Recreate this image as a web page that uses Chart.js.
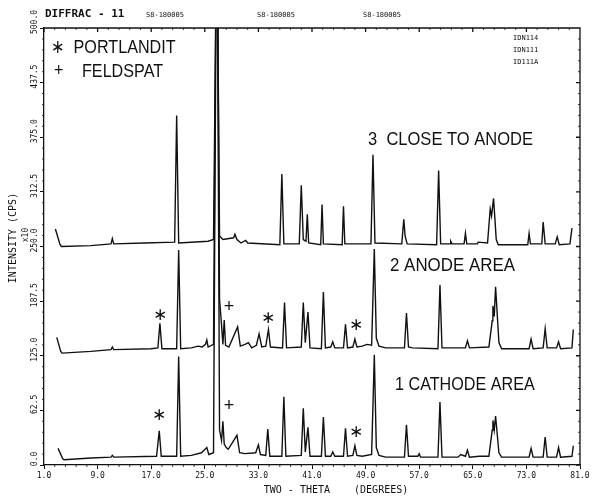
<!DOCTYPE html>
<html>
<head>
<meta charset="utf-8">
<script src="https://cdn.jsdelivr.net/npm/chart.js@4.4.0/dist/chart.umd.min.js"></script>
<style>
  body { margin: 0; background: #fff; }
</style>
</head>
<body>
<canvas id="xrd" width="595" height="499"></canvas>
<script>
// axis ticks
const xTickVals = [1, 9, 17, 25, 33, 41, 49, 57, 65, 73, 81];
const xTickLabels = ["1.0", "9.0", "17.0", "25.0", "33.0", "41.0", "49.0", "57.0", "65.0", "73.0", "81.0"];
const yTickVals = [0, 62.5, 125, 187.5, 250, 312.5, 375, 437.5, 500];
const yTickLabels = ["0.0", "62.5", "125.0", "187.5", "250.0", "312.5", "375.0", "437.5", "500.0"];

// scans, [two-theta, intensity] (offset as drawn)
const closeToAnode = [[2.7,270],[3.4,252],[3.6,250],[8,251],[11.0,253],[11.2,259],[11.4,253],[16,254],[20.5,255],[20.8,400],[21.1,254],[25.5,256],[26.3,258],[26.8,640],[27.2,262],[27.7,258],[29.3,260],[29.5,264],[29.8,258],[30.4,254],[31.1,257],[31.4,254],[36.2,252],[36.5,333],[36.8,253],[39.1,253],[39.4,320],[39.7,258],[40.1,256],[40.3,287],[40.5,254],[42.3,252],[42.5,298],[42.7,253],[45.5,252],[45.7,296],[45.9,253],[49.8,253],[50.1,355],[50.4,254],[54.4,253],[54.7,281],[54.9,262],[55.2,253],[59.6,252],[59.9,337],[60.2,253],[61.6,253],[61.7,256],[61.9,253],[63.7,253],[63.9,265],[64.1,253],[65.7,253],[65.8,255],[67.2,254],[67.6,293],[67.8,285],[68.1,305],[68.5,258],[68.8,252],[73.2,252],[73.4,265],[73.6,253],[75.3,253],[75.5,278],[75.8,253],[77.3,253],[77.6,261],[77.9,252],[79.5,253],[79.8,271]];

const anodeArea = [[2.9,146],[3.5,130],[3.7,128],[8,130],[11.0,132],[11.2,135],[11.4,132],[17.0,133],[18.0,134],[18.3,162],[18.6,133],[20.8,133],[21.1,246],[21.4,133],[23,134],[24.0,136],[24.6,135],[25.1,138],[25.3,143],[25.5,135],[26.3,138],[26.8,700],[27.2,190],[27.5,160],[27.7,138],[27.9,166],[28.1,137],[28.6,135],[29.9,158],[30.3,136],[31.0,138],[31.5,140],[32.0,134],[32.7,137],[33.1,150],[33.5,135],[34.1,136],[34.5,155],[34.8,135],[36.6,134],[36.9,186],[37.2,134],[39.4,135],[39.7,186],[40.0,140],[40.4,175],[40.7,134],[42.4,133],[42.7,198],[43.0,134],[43.8,135],[44.1,141],[44.4,134],[45.7,134],[46.0,161],[46.3,134],[47.1,135],[47.4,144],[47.7,135],[48.5,136],[49.2,138],[49.9,137],[50.3,247],[50.6,145],[51.0,136],[52,134],[54.8,134],[55.1,174],[55.4,135],[56,134],[59.8,133],[60.1,206],[60.4,134],[63.9,134],[64.2,142],[64.5,134],[67.4,135],[67.9,165],[68.0,182],[68.2,170],[68.4,204],[68.9,140],[69.3,133],[73.4,133],[73.7,144],[74.0,133],[75.5,134],[75.8,156],[76.1,134],[77.5,134],[77.8,141],[78.1,133],[79.8,134],[80.0,155]];

const cathodeArea = [[3.1,19],[3.8,7],[4.0,6],[8,8],[11.0,9],[11.2,11],[11.4,9],[17.8,10],[18.2,39],[18.5,10],[20.8,10],[21.1,124],[21.4,10],[23,11],[24.5,14],[25.3,20],[25.6,12],[26.3,14],[26.8,700],[27.2,40],[27.5,28],[27.7,50],[27.9,24],[28.2,20],[28.5,18],[29.8,34],[30.2,14],[31,13],[32.6,14],[33.0,23],[33.3,12],[34.1,11],[34.4,41],[34.7,10],[36.5,10],[36.8,78],[37.1,10],[39.4,11],[39.7,65],[40.0,15],[40.4,43],[40.7,10],[42.4,10],[42.7,55],[43.0,10],[43.8,10],[44.1,15],[44.4,10],[45.7,10],[46.0,42],[46.3,10],[47.1,11],[47.4,22],[47.7,11],[48.5,10],[49.9,12],[50.3,126],[50.6,20],[51.0,11],[52,9],[54.8,9],[55.1,46],[55.4,10],[56.8,10],[57.0,13],[57.2,9],[59.8,9],[60.1,72],[60.4,9],[62.8,9],[63.2,12],[63.9,10],[64.2,17],[64.5,9],[66,10],[67.4,10],[67.9,40],[68.0,51],[68.2,40],[68.4,56],[68.9,14],[69.3,9],[71,9],[73.4,9],[73.7,19],[74.0,9],[75.5,9],[75.8,32],[76.1,9],[77.5,9],[77.8,20],[78.1,9],[79.8,10],[80.0,22]];

const INK = '#111';
const MONO = '"DejaVu Sans Mono", "Liberation Mono", monospace';
const SANS = '"Liberation Sans", Arial, sans-serif';

function toPts(arr) { return arr.map(p => ({ x: p[0], y: p[1] })); }

function label(ctx, txt, x, y, size, sx) {
    ctx.save();
    ctx.translate(x, y);
    ctx.scale(sx, 1);
    ctx.font = size + 'px ' + SANS;
    ctx.textAlign = 'left';
    ctx.textBaseline = 'middle';
    ctx.fillText(txt, 0, 0);
    ctx.restore();
}

// box, inner ticks and all the plotter text
const decor = {
    id: 'decor',
    afterDraw(chart) {
        const { ctx, chartArea: a, scales: { x, y } } = chart;
        ctx.save();
        ctx.strokeStyle = INK;
        ctx.fillStyle = INK;
        ctx.lineWidth = 1.3;
        ctx.beginPath();
        ctx.moveTo(a.left, a.top);
        ctx.lineTo(a.right, a.top);
        ctx.lineTo(a.right, a.bottom);
        xTickVals.forEach(v => {
            const px = x.getPixelForValue(v);
            ctx.moveTo(px, a.top);
            ctx.lineTo(px, a.top + 4);
        });
        yTickVals.forEach(v => {
            const py = y.getPixelForValue(v);
            ctx.moveTo(a.right, py);
            ctx.lineTo(a.right - 4, py);
        });
        ctx.stroke();

        // small plotter ticks between the labelled ones
        ctx.lineWidth = 0.8;
        ctx.beginPath();
        for (let i = 0; i < xTickVals.length - 1; i++) {
            const p0 = x.getPixelForValue(xTickVals[i]), p1 = x.getPixelForValue(xTickVals[i + 1]);
            for (let k = 1; k < 5; k++) {
                const px = p0 + (p1 - p0) * k / 5;
                ctx.moveTo(px, a.bottom); ctx.lineTo(px, a.bottom + 2);
                ctx.moveTo(px, a.top); ctx.lineTo(px, a.top + 2);
            }
        }
        for (let i = 0; i < yTickVals.length - 1; i++) {
            const p0 = y.getPixelForValue(yTickVals[i]), p1 = y.getPixelForValue(yTickVals[i + 1]);
            for (let k = 1; k < 5; k++) {
                const py = p0 + (p1 - p0) * k / 5;
                ctx.moveTo(a.left, py); ctx.lineTo(a.left - 2, py);
                ctx.moveTo(a.right, py); ctx.lineTo(a.right - 2, py);
            }
        }
        ctx.stroke();

        // y tick labels, rotated like the plotter did
        ctx.font = '8px ' + MONO;
        ctx.textAlign = 'center';
        ctx.textBaseline = 'middle';
        yTickVals.forEach((v, i) => {
            const py = y.getPixelForValue(v);
            ctx.save();
            ctx.translate(35, Math.max(py - 6, 16));
            ctx.rotate(-Math.PI / 2);
            ctx.fillText(yTickLabels[i], 0, 0);
            ctx.restore();
        });

        // axis titles
        ctx.save();
        ctx.translate(13, 238);
        ctx.rotate(-Math.PI / 2);
        ctx.font = '10px ' + MONO;
        ctx.fillText('INTENSITY (CPS)', 0, 0);
        ctx.restore();
        ctx.save();
        ctx.translate(26, 235);
        ctx.rotate(-Math.PI / 2);
        ctx.font = '8px ' + MONO;
        ctx.fillText('x10', 0, 0);
        ctx.restore();
        ctx.font = '10px ' + MONO;
        ctx.fillText('TWO - THETA    (DEGREES)', 336, 490);

        // header
        ctx.textAlign = 'left';
        ctx.font = 'bold 11px ' + MONO;
        ctx.fillText('DIFFRAC - 11', 45, 14);
        ctx.font = '7px ' + MONO;
        ctx.fillText('S8-180005', 146, 15);
        ctx.fillText('S8-180005', 257, 15);
        ctx.fillText('S8-180005', 363, 15);
        ctx.fillText('IDN114', 513, 38);
        ctx.fillText('IDN111', 513, 50);
        ctx.fillText('ID111A', 513, 62);

        // legend and sample names
        label(ctx, '\u2217  PORTLANDIT', 51, 48, 19, 0.85);
        label(ctx, '+', 54, 71, 19, 0.85);
        label(ctx, 'FELDSPAT', 82, 72, 19, 0.85);
        label(ctx, '3  CLOSE TO ANODE', 368, 140, 19, 0.87);
        label(ctx, '2 ANODE AREA', 390, 266, 19, 0.89);
        label(ctx, '1 CATHODE AREA', 395, 385, 19, 0.85);

        // phase markers over peaks
        ctx.textAlign = 'center';
        ctx.textBaseline = 'middle';
        ctx.font = '17px "DejaVu Sans", sans-serif';
        [[160, 316], [268, 319], [356, 326], [159, 416], [356, 433]].forEach(p => ctx.fillText('\u2217', p[0], p[1]));
        ctx.font = '18px ' + SANS;
        [[229, 307], [229, 406]].forEach(p => ctx.fillText('+', p[0], p[1]));
        ctx.restore();
    }
};

const lineStyle = { showLine: true, pointRadius: 0, borderColor: INK, borderWidth: 1.4, tension: 0, fill: false };

new Chart(document.getElementById('xrd'), {
    type: 'scatter',
    data: {
        datasets: [
            { label: '3 CLOSE TO ANODE', data: toPts(closeToAnode), ...lineStyle },
            { label: '2 ANODE AREA', data: toPts(anodeArea), ...lineStyle },
            { label: '1 CATHODE AREA', data: toPts(cathodeArea), ...lineStyle }
        ]
    },
    options: {
        responsive: false,
        animation: false,
        layout: { padding: { top: 28, right: 15, left: 0, bottom: 0 } },
        plugins: { legend: { display: false }, tooltip: { enabled: false } },
        scales: {
            x: {
                type: 'linear', min: 1, max: 81,
                afterBuildTicks: s => { s.ticks = xTickVals.map(v => ({ value: v })); },
                afterFit: s => { s.height = 34; },
                ticks: {
                    color: INK, padding: 2, maxRotation: 0,
                    font: { family: MONO, size: 8 },
                    callback: v => xTickLabels[xTickVals.indexOf(v)]
                },
                grid: { drawOnChartArea: false, color: INK, tickLength: 4 },
                border: { color: INK, width: 1.3 }
            },
            y: {
                min: 0, max: 500,
                afterBuildTicks: s => { s.ticks = yTickVals.map(v => ({ value: v })); },
                afterFit: s => { s.width = 44; },
                ticks: { display: false },
                grid: { drawOnChartArea: false, color: INK, tickLength: 4 },
                border: { color: INK, width: 1.3 }
            }
        }
    },
    plugins: [decor]
});
</script>
</body>
</html>
